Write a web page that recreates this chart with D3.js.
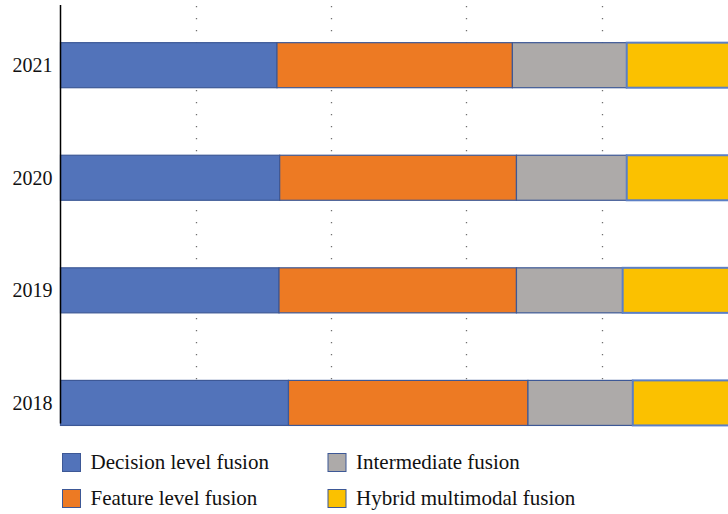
<!DOCTYPE html>
<html><head><meta charset="utf-8">
<script src="https://cdn.jsdelivr.net/npm/d3@7"></script>
<style>html,body{margin:0;padding:0;background:#fff;}</style>
</head><body>
<svg id="c" width="728" height="514"></svg>
<script>
const years = ["2021","2020","2019","2018"];
const seriesNames = ["Decision level fusion","Feature level fusion","Intermediate fusion","Hybrid multimodal fusion"];
const decision = [32.0, 32.4, 32.3, 33.7];
const feature = [34.8, 35.0, 35.1, 35.4];
const intermediate = [16.9, 16.3, 15.7, 15.5];
const hybrid = [16.3, 16.3, 16.9, 15.4];
const gridTicks = [20, 40, 60, 80];
const colors = ["#5273BA","#ED7A23","#ADAAA9","#FBC100"];

const rows = years.map((y,i)=>({year:y, s0:decision[i], s1:feature[i], s2:intermediate[i], s3:hybrid[i]}));
const keys = ["s0","s1","s2","s3"];
const stack = d3.stack().keys(keys)(rows);

const svg = d3.select("#c");
const FONT = "Liberation Serif";
const x = d3.scaleLinear().domain([0,100]).range([60.5,737]);
const y = d3.scaleBand().domain(years).range([8.9,459.2]).paddingInner(0.6).paddingOuter(0.3);

// gridlines
svg.append("g").selectAll("line").data(gridTicks).join("line")
  .attr("x1",d=>Math.round(x(d))+0.5).attr("x2",d=>Math.round(x(d))+0.5)
  .attr("y1",6).attr("y2",423)
  .attr("stroke","#707070").attr("stroke-width",1.3).attr("stroke-dasharray","1.3,10.7");

// bars
svg.append("g").selectAll("g").data(stack).join("g")
  .attr("fill",(d,i)=>colors[i])
  .each(function(layer,li){
    d3.select(this).selectAll("rect").data(layer).join("rect")
      .attr("x",d=>x(d[0])).attr("width",d=>x(d[1])-x(d[0]))
      .attr("y",d=>y(d.data.year)).attr("height",y.bandwidth())
      .attr("stroke", li===3 ? "#5B7FC6" : "#3D5896")
      .attr("stroke-width", li===3 ? 2 : 1.2);
  });

// axis
const yAxis = d3.axisLeft(y).tickSize(0).tickPadding(8);
const ag = svg.append("g").attr("transform",`translate(${x(0)},0)`).call(yAxis)
  .attr("font-family",FONT).attr("font-size",20);
ag.select(".domain").remove();
ag.selectAll("text").attr("fill","#111").attr("dy","0.35em");
svg.append("line").attr("x1",x(0)).attr("x2",x(0)).attr("y1",5).attr("y2",423.5)
  .attr("stroke","#000").attr("stroke-width",1.5);

// legend
const legPos = [[62,453],[62,489],[327.5,453],[327.5,489]];
const lg = svg.append("g").selectAll("g").data(seriesNames).join("g")
  .attr("transform",(d,i)=>`translate(${legPos[i][0]},${legPos[i][1]})`);
lg.append("rect").attr("x",0.5).attr("y",0.5).attr("width",18).attr("height",18)
  .attr("fill",(d,i)=>colors[i]).attr("stroke","#3D5896").attr("stroke-width",1);
lg.append("text").attr("x",28.5).attr("y",15.5).text(d=>d)
  .attr("font-family",FONT).attr("font-size",21).attr("fill","#111");
</script>
</body></html>
